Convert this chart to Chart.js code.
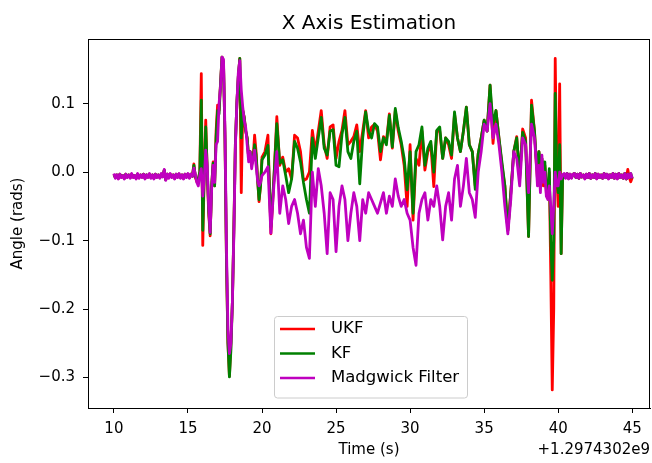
<!DOCTYPE html>
<html>
<head>
<meta charset="utf-8">
<script src="https://cdn.jsdelivr.net/npm/chart.js@4.4.1/dist/chart.umd.min.js"></script>
<style>
    body { margin: 0; background: #fff; }
    canvas { display: block; }
</style>
</head>
<body>
<canvas id="myChart" width="652" height="463"></canvas>
<script>
// time in seconds (offset +1.2974302e9)
const timeSec = [
    10.0, 10.1, 10.2, 10.3, 10.4, 10.5, 10.6, 10.7, 10.8, 10.9,
    11.0, 11.1, 11.2, 11.3, 11.4, 11.5, 11.6, 11.7, 11.8, 11.9,
    12.0, 12.1, 12.2, 12.3, 12.4, 12.5, 12.6, 12.7, 12.8, 12.9,
    13.0, 13.1, 13.2, 13.3, 13.4, 13.5, 13.6, 13.7, 13.8, 13.9,
    14.0, 14.1, 14.2, 14.3, 14.4, 14.5, 14.6, 14.7, 14.8, 14.9,
    15.0, 15.1, 15.2, 15.3,
    15.4, 15.5, 15.6, 15.7, 15.8, 15.9, 16.0, 16.1, 16.2, 16.3,
    16.4, 16.5, 16.6, 16.7, 16.8, 16.9, 17.0, 17.1, 17.2, 17.3,
    17.4, 17.5, 17.6, 17.7, 17.8, 17.9, 18.0, 18.1, 18.2, 18.3,
    18.4, 18.5, 18.6, 18.7, 18.8, 18.9, 19.0, 19.1, 19.2, 19.3,
    19.4, 19.5, 19.6, 19.7, 19.8, 19.9, 20.0,
    20.2, 20.4, 20.6, 20.8, 21.0, 21.2, 21.4, 21.6, 21.8, 22.0,
    22.2, 22.4, 22.6, 22.8, 23.0, 23.2, 23.4, 23.6, 23.8, 24.0,
    24.2, 24.4, 24.6, 24.8, 25.0, 25.2, 25.4, 25.6, 25.8, 26.0,
    26.2, 26.4, 26.6, 26.8, 27.0, 27.2, 27.4, 27.6, 27.8, 28.0,
    28.2, 28.4, 28.6, 28.8, 29.0, 29.2, 29.4, 29.6, 29.8, 30.0,
    30.2, 30.4, 30.6, 30.8, 31.0, 31.2, 31.4, 31.6, 31.8, 32.0,
    32.2, 32.4, 32.6, 32.8, 33.0, 33.2, 33.4, 33.6, 33.8, 34.0,
    34.2, 34.4, 34.6, 34.8, 35.0, 35.2, 35.4, 35.6, 35.8, 36.0,
    36.2, 36.4, 36.6, 36.8, 37.0, 37.2, 37.4, 37.6, 37.8, 38.0,
    38.2, 38.4,
    38.5, 38.6, 38.7, 38.8, 38.9, 39.0, 39.1, 39.2, 39.3, 39.4,
    39.5, 39.6, 39.7, 39.8, 39.9, 40.0, 40.1, 40.2, 40.3, 40.4,
    40.5, 40.6, 40.7, 40.8, 40.9, 41.0,
    41.1, 41.2, 41.3, 41.4, 41.5, 41.6, 41.7, 41.8, 41.9, 42.0,
    42.1, 42.2, 42.3, 42.4, 42.5, 42.6, 42.7, 42.8, 42.9, 43.0,
    43.1, 43.2, 43.3, 43.4, 43.5, 43.6, 43.7, 43.8, 43.9, 44.0,
    44.1, 44.2, 44.3, 44.4, 44.5, 44.6, 44.7, 44.8, 44.9, 45.0
];

const ukfAngle = [
    -0.003, -0.008, -0.004, -0.009, -0.003, -0.007, -0.005, -0.009, -0.003, -0.007,
    -0.004, -0.008, -0.003, -0.007, -0.005, -0.009, -0.003, -0.008, -0.004, -0.007,
    -0.003, -0.009, -0.004, -0.007, -0.003, -0.008, -0.004, -0.009, -0.003, -0.007,
    -0.004, -0.008, -0.003, -0.006, 0.003, -0.011, -0.003, -0.008, -0.003, -0.007,
    -0.004, -0.009, -0.003, -0.007, -0.003, -0.008, -0.004, -0.009, -0.003, -0.007,
    -0.003, -0.008, -0.003, -0.006,
    0.012, -0.008, -0.014, -0.01, 0.0, 0.144, -0.107, 0.0, 0.076, 0.0,
    -0.06, -0.093, -0.02, 0.015, -0.02, 0.06, 0.098, 0.09, 0.13, 0.168,
    0.16, 0.05, -0.13, -0.25, -0.298, -0.25, -0.19, -0.08, 0.04, 0.1,
    0.14, 0.166, -0.03, 0.09, 0.08, 0.06, 0.05, 0.02, 0.03, 0.01,
    0.02, 0.054, 0.03, -0.01, -0.043, -0.02, 0.022,
    0.03, 0.054, -0.09, -0.012, 0.081, 0.01, 0.022, 0.0, 0.005, -0.01,
    0.054, 0.05, 0.03, -0.012, -0.01, 0.0, 0.061, 0.03, 0.06, 0.09,
    0.04, 0.02, 0.066, 0.069, 0.02, 0.045, 0.061, 0.09, 0.04, 0.045,
    0.052, 0.069, 0.03, 0.06, 0.09, 0.05, 0.066, 0.07, 0.06, 0.018,
    0.052, 0.045, 0.085, 0.035, 0.09, 0.06, 0.04, 0.01, -0.05, 0.04,
    -0.07, 0.02, 0.01, 0.06, 0.003, 0.03, 0.04, -0.021, 0.06, 0.06,
    0.02, 0.05, 0.04, 0.02, 0.085, 0.05, 0.03, 0.06, 0.095, 0.04,
    0.03, -0.02, 0.027, 0.05, 0.076, 0.06, 0.127, 0.042, 0.09, 0.05,
    0.01, -0.02, -0.085, -0.03, 0.03, 0.052, -0.01, 0.063, 0.05, -0.094,
    0.105, 0.06,
    0.02, -0.01, 0.03, 0.0, 0.02, -0.02, 0.01, -0.03, -0.035, 0.0,
    -0.15, -0.318, -0.2, 0.166, 0.0, -0.05, 0.129, -0.119, -0.005, -0.003,
    -0.008, -0.002, -0.009, -0.003, -0.008, -0.003,
    -0.002, -0.008, -0.003, -0.009, -0.002, -0.007, -0.004, -0.009, -0.003, -0.008,
    -0.002, -0.009, -0.004, -0.008, -0.002, -0.009, -0.003, -0.008, -0.004, -0.009,
    -0.002, -0.008, -0.003, -0.009, -0.004, -0.008, -0.002, -0.009, -0.003, -0.009,
    -0.002, -0.008, -0.004, -0.009, -0.002, -0.010, 0.004, -0.008, -0.014, -0.008
];

const kfAngle = [
    -0.003, -0.008, -0.004, -0.009, -0.003, -0.007, -0.005, -0.009, -0.003, -0.007,
    -0.004, -0.008, -0.003, -0.007, -0.005, -0.009, -0.003, -0.008, -0.004, -0.007,
    -0.003, -0.009, -0.004, -0.007, -0.003, -0.008, -0.004, -0.009, -0.003, -0.007,
    -0.004, -0.008, -0.003, -0.006, 0.003, -0.011, -0.003, -0.008, -0.003, -0.007,
    -0.004, -0.009, -0.003, -0.007, -0.003, -0.008, -0.004, -0.009, -0.003, -0.007,
    -0.003, -0.008, -0.003, -0.006,
    0.01, -0.006, -0.012, -0.01, 0.0, 0.105, -0.085, 0.0, 0.066, 0.005,
    -0.055, -0.09, -0.02, 0.013, -0.02, 0.05, 0.09, 0.085, 0.13, 0.168,
    0.16, 0.05, -0.125, -0.25, -0.299, -0.26, -0.19, -0.085, 0.04, 0.1,
    0.14, 0.166, 0.05, 0.09, 0.08, 0.06, 0.05, 0.02, 0.03, 0.012,
    0.02, 0.04, 0.025, -0.01, -0.04, -0.02, 0.018,
    0.025, 0.039, -0.08, -0.01, 0.071, 0.013, 0.018, -0.005, -0.03, -0.01,
    0.045, 0.035, 0.015, -0.015, -0.04, -0.06, 0.05, 0.02, 0.05, 0.08,
    0.035, 0.025, 0.06, 0.062, 0.01, 0.008, 0.055, 0.08, 0.03, 0.02,
    0.045, 0.06, -0.017, 0.05, 0.088, 0.06, 0.05, 0.071, 0.066, 0.03,
    0.05, 0.04, 0.083, 0.037, 0.093, 0.065, 0.045, 0.02, -0.026, 0.03,
    -0.06, 0.03, 0.04, 0.066, 0.01, 0.035, 0.045, 0.0, 0.061, 0.066,
    0.02, 0.05, 0.045, 0.025, 0.088, 0.05, 0.03, 0.06, 0.095, 0.04,
    0.03, -0.025, 0.027, 0.05, 0.076, 0.06, 0.127, 0.07, 0.09, 0.05,
    0.015, -0.02, -0.085, -0.03, 0.03, 0.05, -0.005, 0.058, 0.045, -0.094,
    0.098, 0.06,
    0.025, 0.0, 0.03, 0.015, 0.02, -0.01, 0.015, -0.025, -0.03, 0.005,
    -0.1, -0.158, -0.1, 0.115, 0.0, -0.03, 0.04, -0.119, -0.005, -0.003,
    -0.008, -0.002, -0.009, -0.003, -0.008, -0.003,
    -0.002, -0.008, -0.003, -0.009, -0.002, -0.007, -0.004, -0.009, -0.003, -0.008,
    -0.002, -0.009, -0.004, -0.008, -0.002, -0.009, -0.003, -0.008, -0.004, -0.009,
    -0.002, -0.008, -0.003, -0.009, -0.004, -0.008, -0.002, -0.009, -0.003, -0.009,
    -0.002, -0.008, -0.004, -0.009, -0.002, -0.010, -0.003, -0.008, -0.002, -0.009
];

const madgwickAngle = [
    -0.002, -0.009, -0.004, -0.010, -0.003, -0.008, -0.005, -0.010, -0.003, -0.008,
    -0.004, -0.009, -0.002, -0.008, -0.005, -0.010, -0.002, -0.009, -0.004, -0.008,
    -0.003, -0.010, -0.004, -0.008, -0.002, -0.009, -0.004, -0.010, -0.003, -0.008,
    -0.004, -0.009, -0.002, -0.007, 0.004, -0.012, -0.003, -0.009, -0.002, -0.008,
    -0.004, -0.010, -0.003, -0.008, -0.002, -0.009, -0.004, -0.010, -0.003, -0.008,
    -0.002, -0.009, -0.003, -0.006,
    0.006, -0.004, -0.015, -0.02, -0.005, 0.005, -0.035, -0.01, 0.032, 0.01,
    -0.05, -0.088, -0.025, 0.01, -0.015, 0.04, 0.045, 0.1, 0.125, 0.168,
    0.165, 0.06, -0.11, -0.23, -0.265, -0.25, -0.19, -0.09, 0.035, 0.1,
    0.145, 0.163, 0.12, 0.095, 0.075, 0.065, 0.04, 0.015, 0.03, 0.005,
    0.02, 0.032, 0.01, -0.012, -0.02, -0.015, -0.005,
    0.0, 0.008, -0.089, -0.02, 0.03, -0.06, -0.02, -0.04, -0.075, -0.05,
    -0.04, -0.06, -0.09, -0.07, -0.11, -0.126, 0.0, -0.05, 0.005, -0.02,
    -0.06, -0.119, -0.03, -0.04, -0.116, -0.05, -0.02, -0.04, -0.1, -0.06,
    -0.03, -0.05, -0.1, -0.04, -0.06, -0.03, -0.04, -0.05, -0.06, -0.045,
    -0.03, -0.06, -0.035, -0.05, -0.01, -0.035, -0.05, -0.04, -0.06, -0.07,
    -0.11, -0.136, -0.06, -0.04, -0.03, -0.07, -0.04, -0.05, -0.02, -0.05,
    -0.099, -0.05, -0.03, -0.07, -0.01, 0.01, -0.05, -0.02, 0.02, -0.03,
    -0.04, -0.066, 0.0, 0.03, 0.07, 0.06, 0.1, 0.05, 0.07, 0.04,
    0.0, -0.05, -0.09, -0.04, 0.03, 0.02, -0.02, 0.05, 0.04, -0.03,
    0.07, 0.05,
    0.02, -0.02, 0.01, -0.03, 0.025, -0.015, 0.0, -0.035, -0.04, -0.02,
    -0.05, -0.09, -0.05, 0.0, -0.02, -0.02, 0.0, -0.01, -0.004, -0.002,
    -0.009, -0.002, -0.010, -0.003, -0.009, -0.003,
    -0.002, -0.008, -0.003, -0.009, -0.002, -0.007, -0.004, -0.010, -0.003, -0.008,
    -0.002, -0.009, -0.004, -0.008, -0.002, -0.010, -0.003, -0.008, -0.004, -0.009,
    -0.002, -0.008, -0.003, -0.010, -0.004, -0.008, -0.002, -0.009, -0.003, -0.010,
    -0.002, -0.008, -0.004, -0.009, -0.002, -0.010, -0.003, -0.008, -0.002, -0.009
];

const xTicks = [10, 15, 20, 25, 30, 35, 40, 45];
const yTicks = [-0.3, -0.2, -0.1, 0.0, 0.1];
const seriesLabels = ['UKF', 'KF', 'Madgwick Filter'];
const seriesColors = ['#ff0000', '#008000', '#bf00bf'];
const chartTitle = 'X Axis Estimation';
const offsetText = '+1.2974302e9';

const FONT = 'DejaVu Sans';

function toPoints(values) {
    return timeSec.map(function (t, i) {
        return { x: t, y: values[i] };
    });
}

function fmtY(v) {
    return v.toFixed(1).replace('-', '\u2212');
}

// title over the axes, frame, offset text and a matplotlib style legend
const mplExtras = {
    id: 'mplExtras',
    afterDatasetsDraw(chart) {
        const ctx = chart.ctx;
        const area = chart.chartArea;
        ctx.save();
        ctx.strokeStyle = '#000';
        ctx.lineWidth = 1;
        ctx.strokeRect(Math.round(area.left) + 0.5, Math.round(area.top) + 0.5,
            Math.round(area.right - area.left) - 1, Math.round(area.bottom - area.top));

        ctx.fillStyle = '#000';
        ctx.font = '20px "' + FONT + '"';
        ctx.textAlign = 'center';
        ctx.textBaseline = 'alphabetic';
        ctx.fillText(chartTitle, (area.left + area.right) / 2, 29);

        ctx.font = '15px "' + FONT + '"';
        ctx.textAlign = 'right';
        ctx.textBaseline = 'middle';
        ctx.fillText(offsetText, area.right, 450);

        // legend box
        const bx = 274.5, by = 316.5, bw = 193, bh = 81.5, r = 3;
        ctx.beginPath();
        ctx.moveTo(bx + r, by);
        ctx.arcTo(bx + bw, by, bx + bw, by + bh, r);
        ctx.arcTo(bx + bw, by + bh, bx, by + bh, r);
        ctx.arcTo(bx, by + bh, bx, by, r);
        ctx.arcTo(bx, by, bx + bw, by, r);
        ctx.closePath();
        ctx.fillStyle = 'rgba(255,255,255,0.8)';
        ctx.fill();
        ctx.strokeStyle = '#cccccc';
        ctx.stroke();

        const rows = [329, 353.5, 378];
        ctx.font = '16.5px "' + FONT + '"';
        ctx.textAlign = 'left';
        chart.data.datasets.forEach(function (ds, i) {
            ctx.strokeStyle = ds.borderColor;
            ctx.lineWidth = 2.4;
            ctx.beginPath();
            ctx.moveTo(280, rows[i]);
            ctx.lineTo(315, rows[i]);
            ctx.stroke();
            ctx.fillStyle = '#000';
            ctx.fillText(ds.label, 331, rows[i]);
        });
        ctx.restore();
    }
};

const ctx = document.getElementById('myChart').getContext('2d');
const myChart = new Chart(ctx, {
    type: 'line',
    data: {
        datasets: [
            { label: seriesLabels[0], data: toPoints(ukfAngle), borderColor: seriesColors[0], order: 3 },
            { label: seriesLabels[1], data: toPoints(kfAngle), borderColor: seriesColors[1], order: 2 },
            { label: seriesLabels[2], data: toPoints(madgwickAngle), borderColor: seriesColors[2], order: 1 }
        ]
    },
    options: {
        responsive: false,
        animation: false,
        devicePixelRatio: 1,
        layout: { padding: { left: 0, right: 2, top: 39, bottom: 0 } },
        elements: {
            point: { radius: 0 },
            line: { borderWidth: 2.8, tension: 0, fill: false, borderJoinStyle: 'round' }
        },
        plugins: {
            legend: { display: false },
            tooltip: { enabled: false },
            title: { display: false }
        },
        scales: {
            x: {
                type: 'linear',
                min: 8.25,
                max: 46.2,
                afterBuildTicks: function (scale) {
                    scale.ticks = xTicks.map(function (v) { return { value: v }; });
                },
                afterFit: function (scale) { scale.height = 55; },
                ticks: {
                    color: '#000',
                    font: { family: FONT, size: 15 },
                    padding: 7,
                    maxRotation: 0,
                    callback: function (v) { return String(v); }
                },
                grid: { drawOnChartArea: false, drawTicks: true, tickLength: 5, color: '#000' },
                border: { display: true, color: '#000', width: 1 },
                title: {
                    display: true,
                    text: 'Time (s)',
                    color: '#000',
                    font: { family: FONT, size: 15 },
                    padding: { top: 2, bottom: 4 }
                }
            },
            y: {
                type: 'linear',
                min: -0.3445,
                max: 0.1945,
                afterBuildTicks: function (scale) {
                    scale.ticks = yTicks.map(function (v) { return { value: v }; });
                },
                afterFit: function (scale) { scale.width = 88; },
                ticks: {
                    color: '#000',
                    font: { family: FONT, size: 15 },
                    padding: 8,
                    callback: function (v) { return fmtY(v); }
                },
                grid: { drawOnChartArea: false, drawTicks: true, tickLength: 5, color: '#000' },
                border: { display: true, color: '#000', width: 1 },
                title: {
                    display: true,
                    text: 'Angle (rads)',
                    color: '#000',
                    font: { family: FONT, size: 15 },
                    padding: { top: 9, bottom: 2 }
                }
            }
        }
    },
    plugins: [mplExtras]
});
</script>
</body>
</html>
